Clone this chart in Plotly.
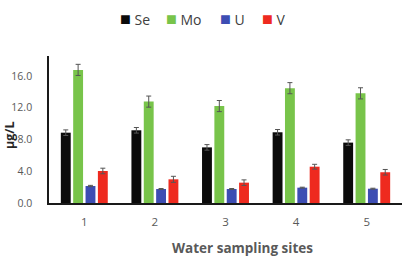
import plotly.graph_objects as go

sites = ["1", "2", "3", "4", "5"]
se = [8.85, 9.15, 7.0, 8.9, 7.6]
mo = [16.75, 12.76, 12.2, 14.45, 13.8]
u = [2.14, 1.76, 1.76, 1.93, 1.8]
v = [4.03, 2.98, 2.56, 4.57, 3.87]
se_err = [0.35, 0.35, 0.35, 0.35, 0.35]
mo_err = [0.7, 0.7, 0.7, 0.7, 0.7]
u_err = [0.08, 0.06, 0.06, 0.06, 0.06]
v_err = [0.35, 0.38, 0.35, 0.3, 0.35]

series = [
    ("Se", se, se_err, "#0b0b0b"),
    ("Mo", mo, mo_err, "#78c44a"),
    ("U", u, u_err, "#3d4db3"),
    ("V", v, v_err, "#ee2a1f"),
]
legend_left_px = [119, 165, 219, 261]

L, R, T, B, W, H = 49, 5, 56, 55, 407, 258
pw, ph = W - L - R, H - T - B

fig = go.Figure()
for name, vals, errs, color in series:
    fig.add_trace(go.Bar(
        x=sites, y=vals, name=name, marker_color=color, marker_line_width=0,
        error_y=dict(type="data", array=errs, color="#555555", thickness=1, width=2.5),
    ))

gray = "#595959"
annotations = []
for (name, _, _, color), px in zip(series, legend_left_px):
    annotations.append(dict(
        text=f"<span style='font-size:18px;color:{color}'>■</span> {name}",
        xref="paper", yref="paper", x=(px - 1 - L) / pw, y=1 + (T - 18) / ph,
        xanchor="left", yanchor="middle", showarrow=False,
        font=dict(size=14, color="#404040")))
annotations.append(dict(text="Water sampling sites", xref="paper", yref="paper",
                        x=(242 - L) / pw, y=-(248 - 203) / ph, xanchor="center", yanchor="middle",
                        showarrow=False, font=dict(size=13.5, color=gray, weight="bold")))
annotations.append(dict(text="μg/L", xref="paper", yref="paper", textangle=-90,
                        x=(9 - L) / pw, y=(203 - 135) / ph, xanchor="center", yanchor="middle",
                        showarrow=False, font=dict(size=12.5, color="#262626", weight="bold")))

fig.update_layout(
    width=W, height=H,
    margin=dict(l=L, r=R, t=T, b=B),
    plot_bgcolor="white", paper_bgcolor="white",
    barmode="group", bargap=0.3, bargroupgap=0.2,
    font=dict(family="Open Sans", color=gray),
    showlegend=False,
    xaxis=dict(showline=True, linecolor="#1a1a1a", linewidth=1.5, ticks="",
               tickfont=dict(size=11.5, color=gray), ticklabelstandoff=7,
               showgrid=False),
    yaxis=dict(range=[0, 18.5], tickvals=[0, 4, 8, 12, 16], tickformat=".1f",
               showline=True, linecolor="#1a1a1a", linewidth=1.5, ticks="",
               tickfont=dict(size=10.5, color=gray), ticklabelstandoff=13,
               showgrid=False, zeroline=False),
    annotations=annotations,
)

fig.write_html("out.html")
